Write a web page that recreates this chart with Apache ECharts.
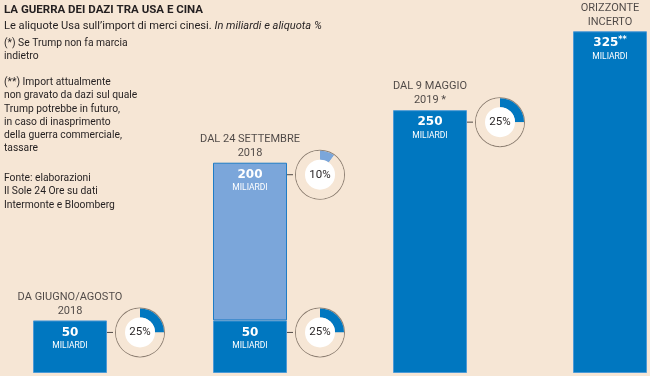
<!DOCTYPE html>
<html>
<head>
<meta charset="utf-8">
<script src="https://cdn.jsdelivr.net/npm/echarts@6/dist/echarts.min.js"></script>
<style>
  html, body { margin: 0; padding: 0; background: #f6e6d5; }
  #chart { width: 650px; height: 376px; }
</style>
</head>
<body>
<div id="chart"></div>
<script>
// dati: miliardi di import colpiti e aliquota %
var categories = ['DA GIUGNO/AGOSTO\n2018', 'DAL 24 SETTEMBRE\n2018', 'DAL 9 MAGGIO\n2019 *', 'ORIZZONTE\nINCERTO'];
var baseValues = [50, 50, 250, 325];
var addedValues = [null, 150, null, null];
var totals = [50, 200, 250, 325];
var valueNotes = ['', '', '', '**'];

// ciambelle con l'aliquota: barra, livello (cima del segmento), aliquota %
var rateBar = [0, 1, 1, 2];
var rateLevel = [50, 50, 200, 250];
var rateValue = [25, 25, 10, 25];
var rateLight = [false, false, true, false];

var DARK = '#0077c0';
var LIGHT = '#7ba6da';
var INK = '#231f20';
var BG = '#f6e6d5';
var FONT = 'Roboto';

var myChart = echarts.init(document.getElementById('chart'));

function valueLabel(note) {
  return {
    show: true,
    position: 'insideTop',
    distance: 5,
    formatter: function (p) {
      var n = note ? note[p.dataIndex] : '';
      return '{num|' + p.value + '}' + (n ? '{sup|' + n + '}' : '') + '\n{unit|MILIARDI}';
    },
    rich: {
      num: { color: '#fff', fontFamily: 'DejaVu Sans', fontWeight: 'bold', fontSize: 12, lineHeight: 14 },
      sup: { color: '#fff', fontFamily: 'DejaVu Sans', fontWeight: 'bold', fontSize: 8, lineHeight: 14, verticalAlign: 'top', padding: [0, 0, 4, 0] },
      unit: { color: '#fff', fontFamily: FONT, fontSize: 8.5, lineHeight: 13 }
    }
  };
}

var option = {
  backgroundColor: BG,
  animation: false,
  grid: { left: -20, width: 720, top: 5, bottom: 3, outerBoundsMode: 'none', containLabel: false },
  xAxis: {
    type: 'category',
    data: categories,
    show: false
  },
  yAxis: {
    type: 'value',
    min: 0,
    max: 350,
    show: false
  },
  series: [{
    name: 'base',
    type: 'bar',
    stack: 'tot',
    barWidth: 74,
    itemStyle: { color: DARK, borderColor: '#4d9ad6', borderWidth: 1 },
    label: valueLabel(valueNotes),
    data: baseValues
  }, {
    name: 'aggiunta',
    type: 'bar',
    stack: 'tot',
    barWidth: 74,
    itemStyle: { color: LIGHT, borderColor: '#1f7cc6', borderWidth: 1 },
    label: (function () {
      var l = valueLabel(null);
      l.formatter = function (p) {
        return '{num|' + totals[p.dataIndex] + '}\n{unit|MILIARDI}';
      };
      return l;
    })(),
    data: addedValues
  }, {
    name: 'periodo',
    type: 'scatter',
    symbolSize: 1,
    itemStyle: { color: 'rgba(0,0,0,0)' },
    label: {
      show: true,
      position: 'top',
      distance: 2,
      color: INK,
      fontFamily: FONT,
      fontSize: 11,
      lineHeight: 14,
      align: 'center',
      formatter: function (p) { return categories[p.dataIndex]; }
    },
    data: totals
  }]
};
myChart.setOption(option);

// posizione delle ciambelle e delle frecce ricavata dalle barre
var pies = [];
var arrows = [];
for (var i = 0; i < rateBar.length; i++) {
  var pt = myChart.convertToPixel({ gridIndex: 0 }, [rateBar[i], rateLevel[i]]);
  var cx = pt[0] + 70;
  var cy = pt[1] + 12;
  var col = rateLight[i] ? LIGHT : DARK;
  pies.push({
    type: 'pie', silent: true, center: [cx, cy], radius: [24, 25],
    label: { show: false }, itemStyle: { color: '#8f8174' },
    data: [{ value: 1 }]
  });
  pies.push({
    type: 'pie', silent: true, center: [cx, cy], radius: [15, 24],
    startAngle: 90, clockwise: true,
    label: { show: false },
    data: [
      { value: rateValue[i], itemStyle: { color: col } },
      { value: 100 - rateValue[i], itemStyle: { color: BG } }
    ]
  });
  pies.push({
    type: 'pie', silent: true, center: [cx, cy], radius: [0, 15],
    itemStyle: { color: '#fff' },
    label: {
      show: true, position: 'center', color: INK, fontFamily: FONT, fontSize: 11.5,
      formatter: rateValue[i] + '%'
    },
    data: [{ value: 1 }]
  });
  arrows.push({
    type: 'line', silent: true,
    shape: { x1: cx - 27, y1: cy, x2: cx - 44, y2: cy },
    style: { stroke: INK, lineWidth: 0.8 }
  });
  arrows.push({
    type: 'polygon', silent: true,
    shape: { points: [[cx - 47, cy], [cx - 43, cy - 2.5], [cx - 43, cy + 2.5]] },
    style: { fill: INK }
  });
}

var notes = [
  { y: 37, text: '(*) Se Trump non fa marcia\nindietro' },
  { y: 76, text: '(**) Import attualmente\nnon gravato da dazi sul quale\nTrump potrebbe in futuro,\nin caso di inasprimento\ndella guerra commerciale,\ntassare' },
  { y: 172, text: 'Fonte: elaborazioni\nIl Sole 24 Ore su dati\nIntermonte e Bloomberg' }
];
var texts = [{
  type: 'text', left: 4, top: 4,
  style: { text: 'LA GUERRA DEI DAZI TRA USA E CINA', fill: INK, font: 'bold 11.5px ' + FONT }
}, {
  type: 'text', left: 4, top: 21,
  style: {
    text: '{a|Le aliquote Usa sull\u2019import di merci cinesi. }{b|In miliardi e aliquota %}',
    rich: {
      a: { fill: INK, fontFamily: FONT, fontSize: 11.1 },
      b: { fill: INK, fontFamily: FONT, fontSize: 11.1, fontStyle: 'italic' }
    }
  }
}];
notes.forEach(function (n) {
  texts.push({
    type: 'text', left: 4, top: n.y,
    style: { text: n.text, fill: INK, font: '10.3px ' + FONT, lineHeight: 13.2 }
  });
});

myChart.setOption({
  series: option.series.concat(pies),
  graphic: arrows.concat(texts)
});
</script>
</body>
</html>
